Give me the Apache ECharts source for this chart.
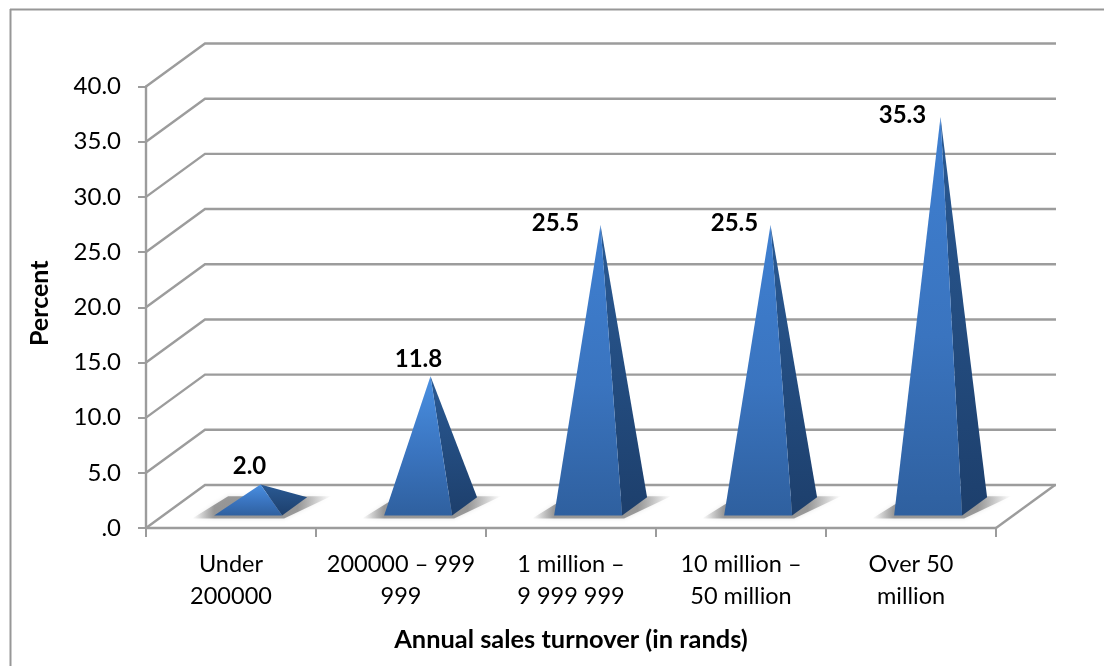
<!DOCTYPE html>
<html>
<head>
<meta charset="utf-8">
<style>html,body{margin:0;padding:0;background:#fff}#c{width:1104px;height:666px}</style>
<script src="https://cdn.jsdelivr.net/npm/echarts@6/dist/echarts.min.js"></script>
</head>
<body>
<div id="c"></div>
<script>
const categories = ['Under\n200000', '200000 – 999\n999', '1 million –\n9 999 999', '10 million –\n50 million', 'Over 50\nmillion'];
const percentValues = [2.0, 11.8, 25.5, 25.5, 35.3];
const valueLabels = ['2.0', '11.8', '25.5', '25.5', '35.3'];
const yTicks = [0, 5, 10, 15, 20, 25, 30, 35, 40];

// layout constants (pixels), not data
const FONT = 'Lato, Carlito, sans-serif';
const DEPTH = [59, -43];
const WIDTH_END = 60;
const HALF_BASE = 34;
const DEPTH_FRONT = 0.29, DEPTH_BACK = 0.713, DEPTH_MID = 0.5;
const labelNudge = [[-11, -18], [-12, -17], [-45, -2], [-36, -2], [-38, -2]];
const GRID_COLOR = '#9c9c9c';

function renderWall(params, api) {
  const v = api.value(1);
  const cs = params.coordSys;
  const y = api.coord([0, v])[1];
  const x0 = cs.x, xb = x0 + DEPTH[0], yb = y + DEPTH[1], xe = cs.x + cs.width + WIDTH_END;
  const children = [{
    type: 'polyline',
    shape: { points: [[x0, y], [xb, yb], [xe, yb]] },
    style: { fill: null, stroke: GRID_COLOR, lineWidth: 2.4 }
  }];
  if (v === 0) {
    children.push({
      type: 'polyline',
      shape: { points: [[cs.x + cs.width, y], [xe - 1, yb]] },
      style: { fill: null, stroke: GRID_COLOR, lineWidth: 2.4 }
    });
  }
  return { type: 'group', children };
}

function renderPyramid(params, api) {
  const i = api.value(0), v = api.value(1);
  const zero = api.coord([i, 0]);
  const top = api.coord([i, v]);
  const h = zero[1] - top[1];
  const cx = zero[0], y0 = zero[1];
  const at = (d, dx) => [cx + DEPTH[0] * d + dx, y0 + DEPTH[1] * d];
  const fl = at(DEPTH_FRONT, -HALF_BASE);
  const fr = at(DEPTH_FRONT, HALF_BASE);
  const br = at(DEPTH_BACK, HALF_BASE);
  const mid = at(DEPTH_MID, 0);
  const apex = [mid[0], mid[1] - h];
  const frontGrad = {
    type: 'linear', x: 0, y: 0, x2: 0, y2: 1,
    colorStops: [
      { offset: 0, color: v > 20 ? '#3f80d2' : '#4a90e2' },
      { offset: 0.55, color: '#3a74bf' },
      { offset: 1, color: '#2f609f' }
    ]
  };
  const sideGrad = {
    type: 'linear', x: 0, y: 0, x2: 0, y2: 1,
    colorStops: [
      { offset: 0, color: '#2a5a94' },
      { offset: 1, color: '#1d3f6c' }
    ]
  };
  const shadowGrad = {
    type: 'linear', x: 0, y: 0, x2: 1, y2: 0,
    colorStops: [
      { offset: 0, color: 'rgba(130,130,130,0)' },
      { offset: 0.16, color: 'rgba(120,120,120,0.72)' },
      { offset: 0.76, color: 'rgba(120,120,120,0.72)' },
      { offset: 1, color: 'rgba(130,130,130,0)' }
    ]
  };
  return {
    type: 'group',
    children: [
      {
        type: 'polygon',
        shape: { points: [[fl[0] - 22, fl[1] + 3], [fl[0] + 14, br[1] - 1], [br[0] + 24, br[1] - 1], [fr[0] + 2, fr[1] + 3]] },
        style: { fill: shadowGrad, shadowBlur: 4, shadowColor: 'rgba(130,130,130,0.3)' }
      },
      {
        type: 'polygon',
        shape: { points: [fr, br, apex] },
        style: { fill: sideGrad }
      },
      {
        type: 'polygon',
        shape: { points: [fl, fr, apex] },
        style: { fill: frontGrad }
      },
      {
        type: 'text',
        style: {
          text: valueLabels[i],
          x: apex[0] + labelNudge[i][0],
          y: apex[1] + labelNudge[i][1],
          textAlign: 'center',
          textVerticalAlign: 'middle',
          font: 'bold 24px ' + FONT,
          fill: '#000'
        }
      }
    ]
  };
}

const chart = echarts.init(document.getElementById('c'), null, { renderer: 'canvas' });
chart.setOption({
  animation: false,
  backgroundColor: '#fff',
  graphic: [
    { type: 'line', shape: { x1: 10, y1: 9.5, x2: 1104, y2: 9.5 }, style: { stroke: '#979797', lineWidth: 2 }, silent: true },
    { type: 'line', shape: { x1: 10.5, y1: 9, x2: 10.5, y2: 666 }, style: { stroke: '#979797', lineWidth: 2 }, silent: true }
  ],
  grid: { left: 146, right: 108, top: 86.5, bottom: 138, containLabel: false },
  xAxis: {
    type: 'category',
    data: categories,
    boundaryGap: true,
    name: 'Annual sales turnover (in rands)',
    nameLocation: 'middle',
    nameGap: 99,
    nameTextStyle: { fontFamily: FONT, fontWeight: 'bold', fontSize: 25.4, color: '#000' },
    axisLine: { show: true, lineStyle: { color: GRID_COLOR, width: 2.4 } },
    axisTick: { show: true, length: 9, alignWithLabel: false, lineStyle: { color: GRID_COLOR, width: 2 } },
    axisLabel: { fontFamily: FONT, fontSize: 23.5, color: '#000', lineHeight: 32, margin: 20, interval: 0 },
    splitLine: { show: false }
  },
  yAxis: {
    type: 'value',
    min: 0,
    max: 40,
    interval: 5,
    name: 'Percent',
    nameLocation: 'middle',
    nameRotate: 90,
    nameGap: 94,
    nameTextStyle: { fontFamily: FONT, fontWeight: 'bold', fontSize: 25, color: '#000', padding: [0, 0, 0, 8] },
    axisLine: { show: true, lineStyle: { color: GRID_COLOR, width: 2.4 } },
    axisTick: { show: true, length: 8, lineStyle: { color: GRID_COLOR, width: 2 } },
    axisLabel: {
      fontFamily: FONT, fontSize: 24, color: '#000', margin: 25,
      formatter: v => v === 0 ? '.0' : v.toFixed(1)
    },
    splitLine: { show: false }
  },
  series: [
    {
      type: 'custom',
      z: 1,
      renderItem: renderWall,
      encode: { x: 0, y: 1 },
      data: yTicks.map(v => [0, v]),
      silent: true
    },
    {
      type: 'custom',
      z: 3,
      renderItem: renderPyramid,
      encode: { x: 0, y: 1 },
      data: percentValues.map((v, i) => [i, v]),
      silent: true
    }
  ]
});
</script>
</body>
</html>
